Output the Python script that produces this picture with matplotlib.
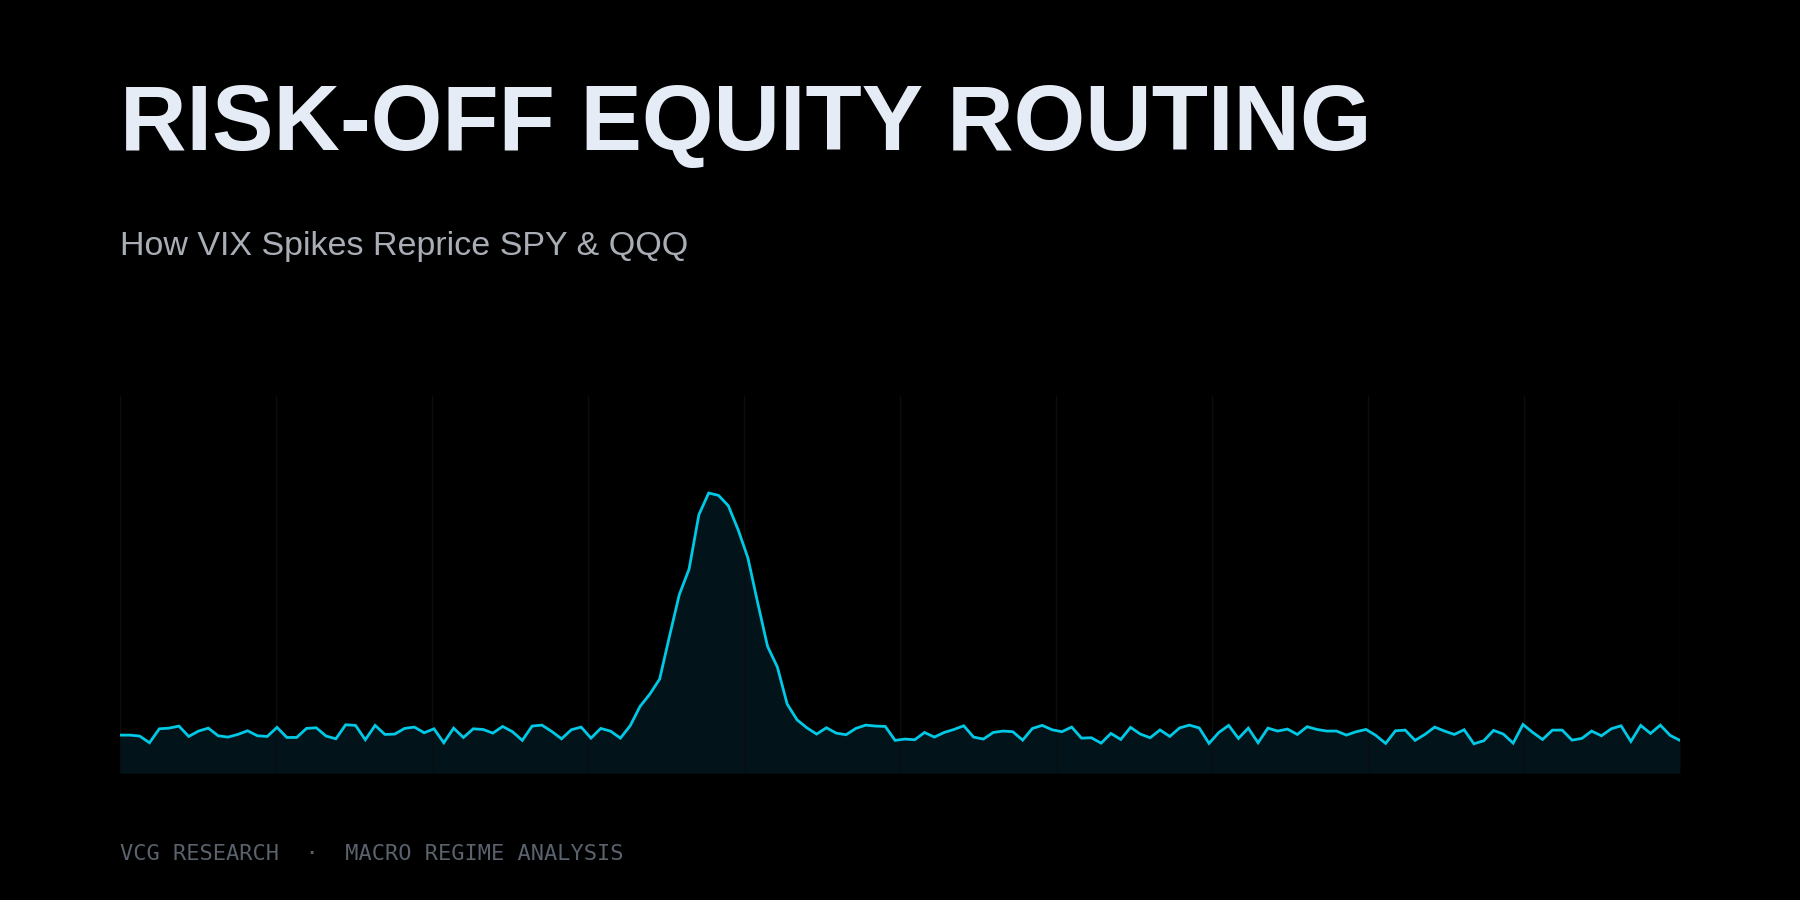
import numpy as np
import matplotlib
matplotlib.use("Agg")
import matplotlib.pyplot as plt

# VIX level (one value per step)
vix = [
    14.03, 14.03, 13.93, 13.22, 14.70, 14.77, 14.99, 13.89, 14.46, 14.77,
    13.96, 13.82, 14.10, 14.49, 13.96, 13.89, 14.85, 13.78, 13.78, 14.74,
    14.81, 13.93, 13.64, 15.13, 15.06, 13.54, 15.06, 14.10, 14.14, 14.74,
    14.88, 14.28, 14.70, 13.22, 14.77, 13.78, 14.70, 14.63, 14.24, 14.95,
    14.39, 13.47, 14.99, 15.09, 14.42, 13.64, 14.60, 14.88, 13.71, 14.74,
    14.45, 13.71, 15.03, 17.07, 18.38, 19.97, 24.50, 28.92, 31.64, 37.41,
    39.71, 39.46, 38.36, 35.82, 32.81, 28.04, 23.44, 21.25, 17.32, 15.66,
    14.81, 14.14, 14.81, 14.24, 14.07, 14.74, 15.09, 14.99, 14.95, 13.47,
    13.61, 13.54, 14.31, 13.82, 14.31, 14.63, 15.02, 13.82, 13.61, 14.31,
    14.46, 14.39, 13.50, 14.74, 15.06, 14.60, 14.39, 14.88, 13.71, 13.75,
    13.18, 14.21, 13.57, 14.85, 14.14, 13.75, 14.58, 13.89, 14.79, 15.09,
    14.79, 13.15, 14.31, 15.06, 13.68, 14.77, 13.22, 14.77, 14.46, 14.67,
    14.10, 14.92, 14.63, 14.46, 14.46, 14.03, 14.39, 14.63, 14.00, 13.15,
    14.49, 14.56, 13.47, 14.10, 14.88, 14.46, 14.10, 14.60, 13.11, 13.43,
    14.53, 14.14, 13.18, 15.16, 14.31, 13.57, 14.56, 14.56, 13.50, 13.68,
    14.46, 13.96, 14.70, 15.02, 13.36, 15.06, 14.21, 15.09, 14.00, 13.47,
]
steps = np.arange(len(vix))
y_floor = 10
y_top = 50

title = "RISK-OFF EQUITY ROUTING"
subtitle = "How VIX Spikes Reprice SPY & QQQ"
footer = "VCG RESEARCH  \u00b7  MACRO REGIME ANALYSIS"

bg = "#000000"
line_col = "#00c9e6"
fill_col = "#02141a"

fig = plt.figure(figsize=(18, 9), dpi=100, facecolor=bg)
ax = fig.add_axes([0.0667, 0.141, 0.8666, 0.419])
ax.set_facecolor(bg)

ax.fill_between(steps, vix, y_floor, color=fill_col, zorder=1, linewidth=0)
ax.plot(steps, vix, color=line_col, lw=2.0, zorder=3, solid_joinstyle="miter")

ax.set_xlim(0, len(vix) - 1)
ax.set_ylim(y_floor, y_top)
ax.set_xticks(np.linspace(0, len(vix) - 1, 11))
ax.set_yticks([])
ax.grid(axis="x", color="#0b0d0e", lw=1.0, zorder=0)
ax.tick_params(length=0, labelbottom=False, labelleft=False)
for s in ax.spines.values():
    s.set_visible(False)

fig.text(0.0667, 0.8333, title, family="Liberation Sans", weight="bold",
         fontsize=66.3, color="#e6ecf6", va="baseline", ha="left")
fig.text(0.0667, 0.7167, subtitle, family="Liberation Sans",
         fontsize=24.5, color="#a9aeb6", va="baseline", ha="left")
fig.text(0.0667, 0.0444, footer, family="DejaVu Sans Mono",
         fontsize=15.8, color="#5a626d", va="baseline", ha="left")

fig.savefig("out.png", dpi=100, facecolor=bg)
